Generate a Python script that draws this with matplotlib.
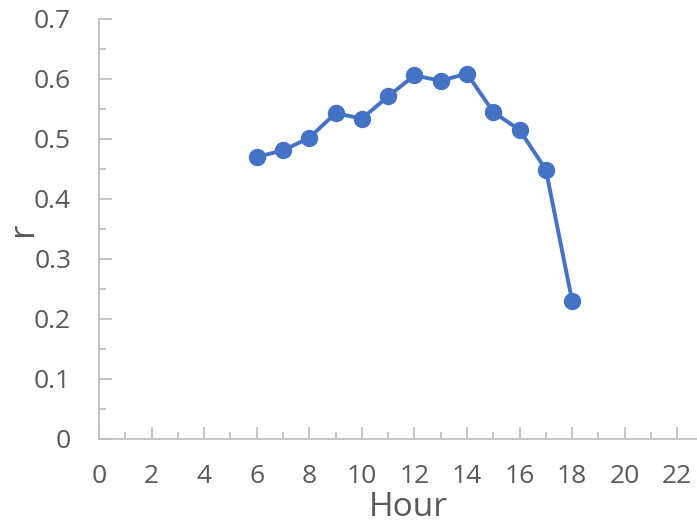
import numpy as np
import matplotlib
matplotlib.use("Agg")
import matplotlib.pyplot as plt
from matplotlib.ticker import MultipleLocator

# hourly correlation values
hours = [6, 7, 8, 9, 10, 11, 12, 13, 14, 15, 16, 17, 18]
r_vals = [0.470, 0.481, 0.502, 0.543, 0.534, 0.571, 0.606, 0.597, 0.609, 0.545, 0.515, 0.449, 0.230]

plt.rcParams['font.family'] = ['Open Sans', 'DejaVu Sans']
txt_col = '#595959'
ax_col = '#BFBFBF'

fig = plt.figure(figsize=(6.97, 5.29), dpi=100)
ax = fig.add_axes([99/697, 1 - 439/529, (697 - 99)/697, (439 - 19)/529])

ax.plot(hours, r_vals, color='#4472C4', lw=2.8, marker='o', ms=11.5, zorder=3)

ax.set_xlim(0, 22.75)
ax.set_ylim(0, 0.7)
ax.xaxis.set_major_locator(MultipleLocator(2))
ax.xaxis.set_minor_locator(MultipleLocator(1))
ax.yaxis.set_major_locator(MultipleLocator(0.1))
ax.yaxis.set_minor_locator(MultipleLocator(0.05))
ax.set_yticklabels(['0' if v == 0 else f'{v:.1f}' for v in ax.get_yticks()])

for s in ['top', 'right']:
    ax.spines[s].set_visible(False)
for s in ['left', 'bottom']:
    ax.spines[s].set_color(ax_col)
    ax.spines[s].set_linewidth(1.3)

ax.tick_params(which='major', direction='in', length=9, width=1.3, color=ax_col,
               labelsize=19, labelcolor=txt_col)
ax.tick_params(which='minor', direction='in', length=5, width=1.3, color=ax_col)
ax.tick_params(axis='x', which='major', pad=18)
ax.tick_params(axis='y', which='major', pad=20)

ax.set_xlabel('Hour', fontsize=24, color=txt_col, va='top')
ax.xaxis.set_label_coords(0.517, -0.124)
ax.set_ylabel('r', fontsize=25, color=txt_col, va='center')
ax.yaxis.set_label_coords(-0.127, 0.50)

fig.savefig('out.png', dpi=100)
